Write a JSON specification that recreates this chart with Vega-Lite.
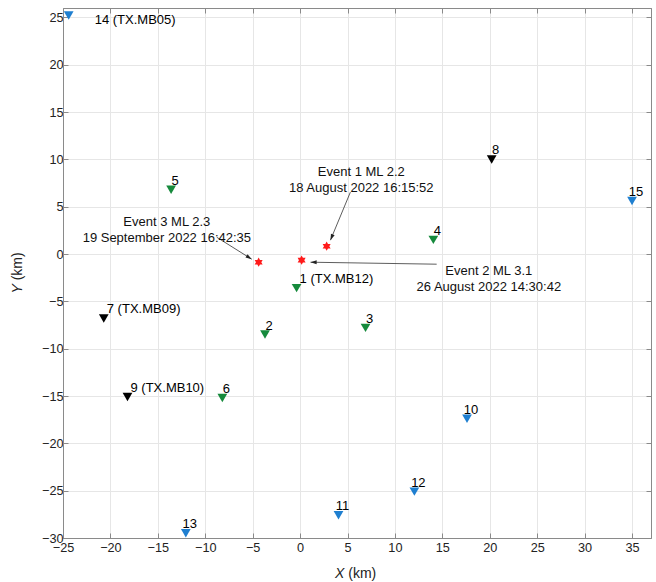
{
  "$schema": "https://vega.github.io/schema/vega-lite/v6.json",
  "width": 588,
  "height": 530,
  "autosize": {"type": "none"},
  "padding": {"left": 63, "top": 8, "right": 5, "bottom": 44},
  "background": "white",
  "config": {
    "view": {"stroke": "#8a8a8a", "strokeWidth": 1},
    "font": "Liberation Sans",
    "axis": {
      "labelFont": "Liberation Sans",
      "labelFontSize": 12.7,
      "labelColor": "#222222",
      "domainColor": "#8a8a8a",
      "tickColor": "#8a8a8a",
      "gridColor": "#e6e6e6",
      "gridWidth": 1,
      "tickSize": -5,
      "title": null
    }
  },
  "datasets": {
    "stations": [
      {"id": 1, "label": "1 (TX.MB12)", "group": "A", "x": -0.37, "y": -3.6},
      {"id": 2, "label": "2", "group": "A", "x": -3.7, "y": -8.5},
      {"id": 3, "label": "3", "group": "A", "x": 6.9, "y": -7.8},
      {"id": 4, "label": "4", "group": "A", "x": 14.05, "y": 1.5},
      {"id": 5, "label": "5", "group": "A", "x": -13.6, "y": 6.8},
      {"id": 6, "label": "6", "group": "A", "x": -8.2, "y": -15.2},
      {"id": 7, "label": "7 (TX.MB09)", "group": "B", "x": -20.7, "y": -6.8},
      {"id": 8, "label": "8", "group": "B", "x": 20.2, "y": 10.0},
      {"id": 9, "label": "9 (TX.MB10)", "group": "B", "x": -18.2, "y": -15.1},
      {"id": 10, "label": "10", "group": "C", "x": 17.6, "y": -17.4},
      {"id": 11, "label": "11", "group": "C", "x": 4.05, "y": -27.6},
      {"id": 12, "label": "12", "group": "C", "x": 12.05, "y": -25.1},
      {"id": 13, "label": "13", "group": "C", "x": -12.05, "y": -29.5},
      {"id": 14, "label": "14 (TX.MB05)", "group": "C", "x": -24.4, "y": 25.2},
      {"id": 15, "label": "15", "group": "C", "x": 35.0, "y": 5.6}
    ],
    "events": [
      {"event": "Event 1", "x": 2.8, "y": 0.83},
      {"event": "Event 2", "x": 0.16, "y": -0.64},
      {"event": "Event 3", "x": -4.37, "y": -0.86}
    ],
    "eventLabels": [
      {"event": "Event 1", "text": "Event 1 ML 2.2\n18 August 2022 16:15:52", "x": 6.45, "y": 8.65},
      {"event": "Event 2", "text": "Event 2 ML 3.1\n26 August 2022 14:30:42", "x": 19.9, "y": -1.81},
      {"event": "Event 3", "text": "Event 3 ML 2.3\n19 September 2022 16:42:35", "x": -14.05, "y": 3.37}
    ],
    "arrows": [
      {"event": "Event 1", "end": 0, "x": 5.3, "y": 6.54},
      {"event": "Event 1", "end": 1, "x": 3.2, "y": 1.47},
      {"event": "Event 2", "end": 0, "x": 14.4, "y": -1.07},
      {"event": "Event 2", "end": 1, "x": 1.1, "y": -0.86},
      {"event": "Event 3", "end": 0, "x": -8.79, "y": 1.78},
      {"event": "Event 3", "end": 1, "x": -5.1, "y": -0.54}
    ],
    "axisTitles": [
      {"axis": "X", "x": 5.85, "y": -33.8},
      {"axis": "Y", "x": -29.74, "y": -2.0}
    ]
  },
  "resolve": {"axis": {"x": "independent", "y": "independent"}},
  "encoding": {
    "x": {"field": "x", "type": "quantitative", "scale": {"domain": [-25, 37], "nice": false, "zero": false}, "axis": null},
    "y": {"field": "y", "type": "quantitative", "scale": {"domain": [-30, 26], "nice": false, "zero": false}, "axis": null}
  },
  "layer": [
    {
      "data": {"name": "stations"},
      "mark": {"type": "point", "shape": "triangle-down", "filled": true, "size": 95, "opacity": 1, "strokeWidth": 0},
      "encoding": {
        "x": {"field": "x", "type": "quantitative", "scale": {"domain": [-25, 37], "nice": false, "zero": false},
          "axis": {"orient": "bottom", "values": [-25, -20, -15, -10, -5, 0, 5, 10, 15, 20, 25, 30, 35], "grid": true, "labelPadding": 8, "labelFlush": false}},
        "y": {"field": "y", "type": "quantitative", "scale": {"domain": [-30, 26], "nice": false, "zero": false},
          "axis": {"orient": "left", "values": [-30, -25, -20, -15, -10, -5, 0, 5, 10, 15, 20, 25], "grid": true, "labelPadding": 5}},
        "color": {"field": "group", "type": "nominal", "legend": null,
          "scale": {"domain": ["A", "B", "C"], "range": ["#168a3c", "#000000", "#1f7fd0"]}}
      }
    },
    {
      "data": {"name": "stations"},
      "transform": [{"filter": "indexof([1, 7, 9, 14], datum.id) < 0"}],
      "mark": {"type": "text", "align": "center", "baseline": "middle", "dx": 4, "dy": -9, "fontSize": 13, "color": "#000000"},
      "encoding": {
        "x": {"field": "x", "type": "quantitative", "scale": {"domain": [-25, 37], "nice": false, "zero": false},
          "axis": {"orient": "top", "values": [-25, -20, -15, -10, -5, 0, 5, 10, 15, 20, 25, 30, 35], "labels": false, "grid": false}},
        "y": {"field": "y", "type": "quantitative", "scale": {"domain": [-30, 26], "nice": false, "zero": false},
          "axis": {"orient": "right", "values": [-30, -25, -20, -15, -10, -5, 0, 5, 10, 15, 20, 25], "labels": false, "grid": false}},
        "text": {"field": "label"}
      }
    },
    {
      "data": {"name": "stations"},
      "transform": [{"filter": "indexof([1, 7, 9], datum.id) >= 0"}],
      "mark": {"type": "text", "align": "left", "baseline": "middle", "dx": 3, "dy": -9, "fontSize": 13, "color": "#000000"},
      "encoding": {"text": {"field": "label"}}
    },
    {
      "data": {"name": "stations"},
      "transform": [{"filter": "datum.id == 14"}],
      "mark": {"type": "text", "align": "left", "baseline": "middle", "dx": 26, "dy": 4, "fontSize": 13, "color": "#000000"},
      "encoding": {"text": {"field": "label"}}
    },
    {
      "data": {"name": "arrows"},
      "mark": {"type": "line", "color": "#333333", "strokeWidth": 0.8},
      "encoding": {
        "detail": {"field": "event"},
        "order": {"field": "end", "type": "quantitative"}
      }
    },
    {
      "data": {"name": "arrows"},
      "transform": [{"filter": "datum.event == 'Event 1' && datum.end == 1"}],
      "mark": {"type": "point", "shape": "M0,0L-0.32,1L0.32,1Z", "filled": true, "size": 150, "color": "#222222", "opacity": 1, "strokeWidth": 0, "angle": 202.6},
      "encoding": {}
    },
    {
      "data": {"name": "arrows"},
      "transform": [{"filter": "datum.event == 'Event 2' && datum.end == 1"}],
      "mark": {"type": "point", "shape": "M0,0L-0.32,1L0.32,1Z", "filled": true, "size": 150, "color": "#222222", "opacity": 1, "strokeWidth": 0, "angle": 271},
      "encoding": {}
    },
    {
      "data": {"name": "arrows"},
      "transform": [{"filter": "datum.event == 'Event 3' && datum.end == 1"}],
      "mark": {"type": "point", "shape": "M0,0L-0.32,1L0.32,1Z", "filled": true, "size": 150, "color": "#222222", "opacity": 1, "strokeWidth": 0, "angle": 122.2},
      "encoding": {}
    },
    {
      "data": {"name": "events"},
      "mark": {"type": "point", "shape": "M0,-1L0.289,-0.5L0.866,-0.5L0.577,0L0.866,0.5L0.289,0.5L0,1L-0.289,0.5L-0.866,0.5L-0.577,0L-0.866,-0.5L-0.289,-0.5Z", "filled": true, "size": 85, "color": "#ff1a1a", "opacity": 1, "strokeWidth": 0},
      "encoding": {}
    },
    {
      "data": {"name": "eventLabels"},
      "mark": {"type": "text", "align": "center", "baseline": "middle", "lineBreak": "\n", "lineHeight": 16, "fontSize": 13, "color": "#111111"},
      "encoding": {"text": {"field": "text"}}
    },
    {
      "data": {"name": "axisTitles"},
      "transform": [{"filter": "datum.axis == 'X'"}],
      "layer": [
        {
          "mark": {"type": "text", "fontStyle": "italic", "fontSize": 14, "align": "left", "baseline": "middle", "dx": -20.5, "color": "#222222"},
          "encoding": {"text": {"field": "axis"}}
        },
        {
          "mark": {"type": "text", "text": "(km)", "fontSize": 14, "align": "left", "baseline": "middle", "dx": -7.3, "color": "#222222"},
          "encoding": {}
        }
      ]
    },
    {
      "data": {"name": "axisTitles"},
      "transform": [{"filter": "datum.axis == 'Y'"}],
      "layer": [
        {
          "mark": {"type": "text", "fontStyle": "italic", "fontSize": 14, "align": "left", "baseline": "middle", "angle": 270, "dx": -20.5, "color": "#222222"},
          "encoding": {"text": {"field": "axis"}}
        },
        {
          "mark": {"type": "text", "text": "(km)", "fontSize": 14, "align": "left", "baseline": "middle", "angle": 270, "dx": -7.3, "color": "#222222"},
          "encoding": {}
        }
      ]
    }
  ]
}
